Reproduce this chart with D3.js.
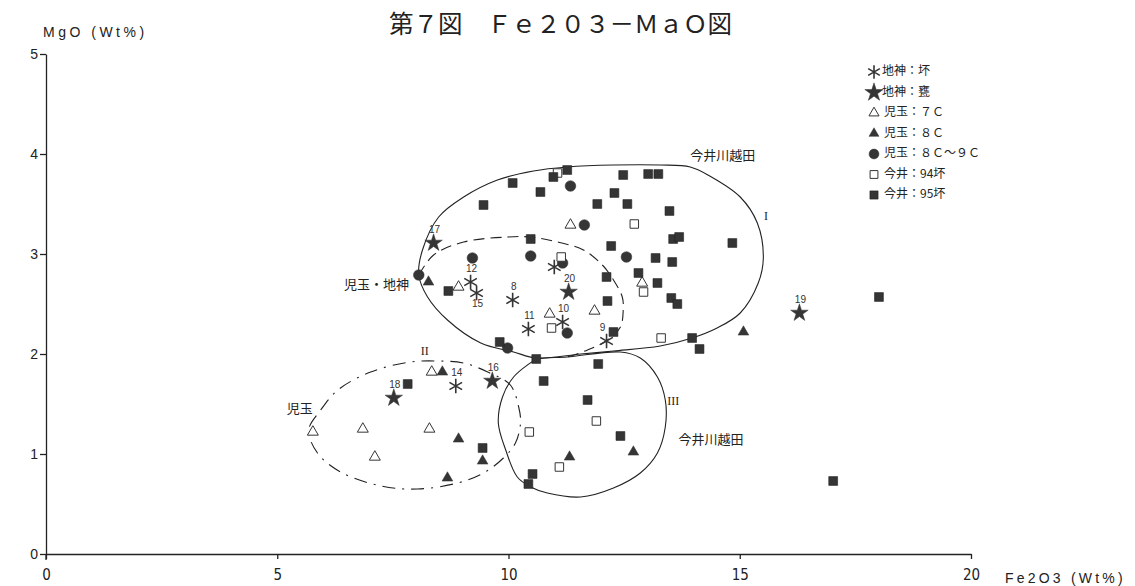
<!DOCTYPE html>
<html>
<head>
<meta charset="utf-8">
<script src="https://cdn.jsdelivr.net/npm/d3@7"></script>
<style>
  body { margin: 0; background: #fff; }
  svg { display: block; }
  .tick text { fill: #222; }
</style>
</head>
<body>
<div id="chart"></div>
<script>
// Fe2O3 - MgO plot (Wt%)
const xTicks = [0, 5, 10, 15, 20]
const yTicks = [0, 1, 2, 3, 4, 5]

// 地神：坏 (asterisk) [Fe2O3, MgO, no.]
const jishinTsuki = [
  [10.09, 2.54, '8'], [12.12, 2.13, '9'], [11.17, 2.32, '10'], [10.43, 2.25, '11'],
  [9.18, 2.72, '12'], [8.86, 1.68, '14'], [9.31, 2.61, '15'], [10.99, 2.87, '']
]
// 地神：甕 (star)
const jishinKame = [
  [9.65, 1.73, '16'], [8.38, 3.11, '17'], [7.52, 1.56, '18'], [16.29, 2.41, '19'], [11.30, 2.62, '20']
]
// 児玉：7C (open triangle)
const kodama7 = [
  [11.34, 3.29], [8.92, 2.67], [12.89, 2.71], [11.86, 2.43], [10.89, 2.40],
  [8.34, 1.82], [5.77, 1.22], [6.85, 1.25], [8.29, 1.25], [7.11, 0.97]
]
// 児玉：8C (filled triangle)
const kodama8 = [
  [8.27, 2.72], [15.08, 2.22], [8.57, 1.82], [8.92, 1.15], [9.44, 0.93],
  [8.68, 0.76], [11.32, 0.97], [12.70, 1.02]
]
// 児玉：8C～9C (filled circle)
const kodama89 = [
  [8.06, 2.79], [11.34, 3.68], [11.64, 3.29], [9.22, 2.96], [10.48, 2.98],
  [11.17, 2.91], [12.55, 2.97], [11.27, 2.21], [9.98, 2.06]
]
// 今井：94坏 (open square)
const imai94 = [
  [11.06, 3.81], [12.72, 3.30], [11.14, 2.97], [12.92, 2.62], [10.93, 2.26],
  [13.30, 2.16], [10.45, 1.22], [11.90, 1.33], [11.10, 0.87]
]
// 今井：95坏 (filled square)
const imai95 = [
  [11.27, 3.84], [10.97, 3.77], [10.09, 3.71], [12.48, 3.79], [13.02, 3.80], [13.24, 3.80],
  [10.69, 3.62], [12.29, 3.61], [9.46, 3.49], [11.92, 3.50], [12.57, 3.50], [13.48, 3.43],
  [10.48, 3.15], [12.22, 3.08], [13.56, 3.15], [13.69, 3.17], [14.84, 3.11], [13.18, 2.96],
  [13.54, 2.92], [12.81, 2.81], [13.22, 2.71], [12.12, 2.77], [8.70, 2.63], [12.14, 2.53],
  [13.52, 2.56], [13.65, 2.50], [12.27, 2.22], [13.97, 2.16], [14.13, 2.05], [9.81, 2.12],
  [10.60, 1.95], [11.94, 1.90], [10.76, 1.73], [7.82, 1.70], [11.71, 1.54], [12.42, 1.18],
  [9.44, 1.06], [10.52, 0.80], [10.43, 0.70], [18.01, 2.57], [17.02, 0.73]
]

// group outlines (data units)
const regionI = [
  [8.06, 2.79], [8.14, 3.04], [8.49, 3.37], [9.03, 3.57], [9.76, 3.74], [10.54, 3.83],
  [11.27, 3.87], [12.27, 3.89], [13.28, 3.89], [13.93, 3.87], [14.35, 3.78], [15.01, 3.57],
  [15.38, 3.31], [15.51, 2.96], [15.40, 2.71], [15.01, 2.41], [14.51, 2.26], [13.97, 2.16],
  [13.28, 2.08], [12.27, 2.03], [11.56, 2.00], [10.60, 1.96], [10.11, 2.02], [9.40, 2.11],
  [8.68, 2.34], [8.25, 2.57]
]
const regionInner = [
  [8.06, 2.79], [8.38, 2.99], [9.03, 3.12], [9.98, 3.17], [10.48, 3.17], [11.06, 3.12],
  [11.62, 3.04], [12.03, 2.89], [12.27, 2.74], [12.46, 2.57], [12.48, 2.44], [12.42, 2.27],
  [12.14, 2.14], [11.71, 2.04], [11.27, 1.97]
]
const regionII = [
  [5.68, 1.24], [5.94, 1.44], [6.31, 1.64], [7.02, 1.82], [7.88, 1.92], [8.47, 1.93],
  [9.03, 1.91], [9.55, 1.82], [10.04, 1.69], [10.22, 1.47], [10.26, 1.31], [10.15, 1.11],
  [9.89, 0.96], [9.46, 0.81], [8.90, 0.71], [8.03, 0.65], [7.24, 0.68], [6.37, 0.82], [5.87, 1.01]
]
const regionIII = [
  [10.63, 1.95], [11.27, 1.97], [12.42, 2.02], [12.85, 1.96], [13.22, 1.77], [13.39, 1.54],
  [13.39, 1.27], [13.22, 1.01], [12.85, 0.81], [12.27, 0.66], [11.56, 0.57], [10.84, 0.61],
  [10.48, 0.67], [10.19, 0.77], [9.94, 1.04], [9.78, 1.31], [9.87, 1.57], [10.11, 1.77], [10.41, 1.89]
]

// annotation texts [Fe2O3, MgO, text, anchor]
const notes = [
  [14.63, 3.98, '今井川越田', 'middle'],
  [15.57, 3.37, 'I', 'middle'],
  [7.85, 2.69, '児玉・地神', 'end'],
  [5.77, 1.45, '児玉', 'end'],
  [8.19, 2.02, 'II', 'middle'],
  [13.56, 1.52, 'III', 'middle'],
  [14.38, 1.14, '今井川越田', 'middle']
]

const legendItems = ['地神：坏', '地神：甕', '児玉：７Ｃ', '児玉：８Ｃ', '児玉：８Ｃ～９Ｃ', '今井：94坏', '今井：95坏']

const W = 1135, H = 586
const ink = '#353535'
const cjk = '"Noto Sans CJK JP", "Noto Sans", sans-serif'

const svg = d3.select('#chart').append('svg').attr('width', W).attr('height', H)
svg.append('rect').attr('width', W).attr('height', H).attr('fill', '#fff')

const x = d3.scaleLinear().domain([0, 20]).range([46, 971])
const y = d3.scaleLinear().domain([0, 5]).range([554, 54])

// axes
const xAxis = svg.append('g').attr('transform', `translate(0,${y(0)})`)
  .call(d3.axisBottom(x).tickValues(xTicks).tickFormat(d3.format('d')).tickSize(5).tickSizeOuter(0).tickPadding(10))
xAxis.selectAll('text')
  .attr('font-family', '"Liberation Sans Narrow", "DejaVu Sans Condensed", sans-serif')
  .attr('font-stretch', 'condensed').attr('font-size', 15)
const yAxis = svg.append('g').attr('transform', `translate(${x(0)},0)`)
  .call(d3.axisLeft(y).tickValues(yTicks).tickFormat(d3.format('d')).tickSize(6).tickSizeOuter(0).tickPadding(2))
yAxis.selectAll('text').attr('font-family', '"Liberation Sans", Arial, sans-serif').attr('font-size', 14)
svg.selectAll('.domain, .tick line').attr('stroke', '#222').attr('stroke-width', 1.3)
svg.append('line')
  .attr('x1', x(0)).attr('x2', x(0)).attr('y1', y(0)).attr('y2', y(0) + 6)
  .attr('stroke', '#222').attr('stroke-width', 1.3)

svg.append('text').attr('x', 43).attr('y', 37)
  .attr('font-family', '"Liberation Sans", sans-serif').attr('font-size', 14)
  .attr('letter-spacing', 3.5).attr('fill', '#222').text('MgO (Wt%)')
svg.append('text').attr('x', 1005).attr('y', 583)
  .attr('font-family', '"Liberation Sans", sans-serif').attr('font-size', 14)
  .attr('letter-spacing', 3.2).attr('fill', '#222').text('Fe2O3 (Wt%)')

// title
svg.append('text').attr('x', 389).attr('y', 33)
  .attr('font-family', cjk).attr('font-size', 24.5).attr('fill', '#222')
  .text('第７図　Ｆｅ２０３－ＭａＯ図')

// outlines
const closed = d3.line().x(d => x(d[0])).y(d => y(d[1])).curve(d3.curveCatmullRomClosed.alpha(0.5))
const open = d3.line().x(d => x(d[0])).y(d => y(d[1])).curve(d3.curveCatmullRom.alpha(0.5))
const outline = (pts, gen, dash) => svg.append('path')
  .attr('d', gen(pts)).attr('fill', 'none').attr('stroke', '#222').attr('stroke-width', 1.1)
  .attr('stroke-dasharray', dash)
outline(regionI, closed, null)
outline(regionInner, open, '11,6')
outline(regionII, closed, '13,7,2,7')
outline(regionIII, closed, null)

svg.append('g').selectAll('text').data(notes).join('text')
  .attr('x', d => x(d[0])).attr('y', d => y(d[1]))
  .attr('text-anchor', d => d[3]).attr('dominant-baseline', 'middle')
  .attr('font-family', d => /^I+$/.test(d[2]) ? '"Liberation Serif", serif' : cjk)
  .attr('font-size', d => /^I+$/.test(d[2]) ? 12 : 13)
  .attr('fill', '#222').text(d => d[2])

// markers
const series = [
  { data: jishinTsuki, type: d3.symbolAsterisk, size: 150, fill: 'none', stroke: ink, sw: 1.6 },
  { data: jishinKame, type: d3.symbolStar, size: 95, fill: ink, stroke: ink, sw: 0.5 },
  { data: kodama7, type: d3.symbolTriangle, size: 52, fill: '#fff', stroke: ink, sw: 1 },
  { data: kodama8, type: d3.symbolTriangle, size: 50, fill: ink, stroke: ink, sw: 0.5 },
  { data: kodama89, type: d3.symbolCircle, size: 90, fill: ink, stroke: ink, sw: 0.5 },
  { data: imai94, type: d3.symbolSquare, size: 72, fill: '#fff', stroke: ink, sw: 1 },
  { data: imai95, type: d3.symbolSquare, size: 78, fill: ink, stroke: '#222', sw: 0.6 }
]
const belowIds = ['15']

series.forEach(s => {
  const sym = d3.symbol().type(s.type).size(s.size)
  svg.append('g').selectAll('path').data(s.data).join('path')
    .attr('transform', d => `translate(${x(d[0])},${y(d[1])})`)
    .attr('d', sym).attr('fill', s.fill).attr('stroke', s.stroke).attr('stroke-width', s.sw)
  svg.append('g').selectAll('text').data(s.data.filter(d => d[2])).join('text')
    .attr('x', d => x(d[0]) + (d[2] === '9' ? -4 : 1))
    .attr('y', d => y(d[1]) + (belowIds.includes(d[2]) ? 14 : -10))
    .attr('text-anchor', 'middle')
    .attr('font-family', '"Liberation Sans Narrow", "Liberation Sans", sans-serif')
    .attr('font-size', 10).attr('fill', '#333').text(d => d[2])
})

// legend
const legend = svg.append('g').attr('transform', 'translate(874,72)')
legendItems.forEach((label, i) => {
  const s = series[i]
  const row = legend.append('g').attr('transform', `translate(0,${i * 20.5})`)
  row.append('path').attr('d', d3.symbol().type(s.type).size(s.size * (i === 1 ? 1.1 : 0.85)))
    .attr('fill', s.fill).attr('stroke', s.stroke).attr('stroke-width', s.sw)
  row.append('text').attr('x', i < 2 ? 8 : 10).attr('y', 0).attr('dominant-baseline', 'middle')
    .attr('font-family', cjk).attr('font-size', 12).attr('fill', '#222').text(label)
})
</script>
</body>
</html>
